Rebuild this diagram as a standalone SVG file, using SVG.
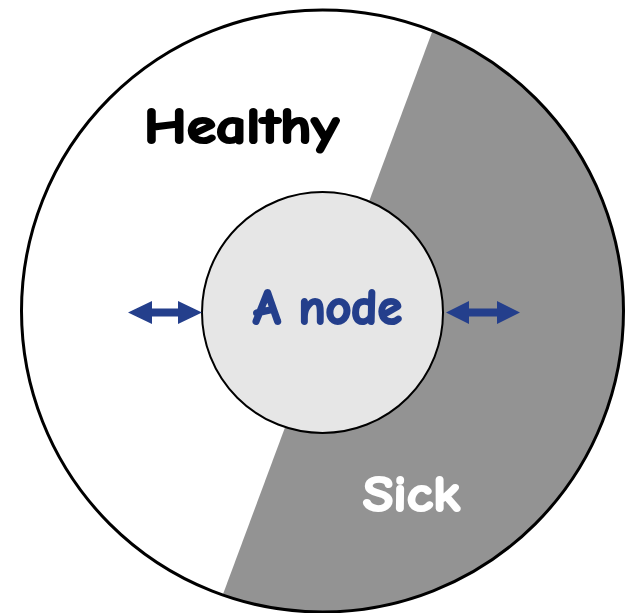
<svg xmlns="http://www.w3.org/2000/svg" width="627" height="613" viewBox="0 0 627 613">
<style>
.lbl{font-family:"Comic Sans MS","Comic Neue","DejaVu Sans",sans-serif;font-weight:bold;font-size:50px;text-anchor:middle;stroke-width:2.2;stroke-linejoin:round}
.arr{fill:#243f8c}
</style>
<defs>
<clipPath id="outerClip"><circle cx="322.5" cy="311" r="301"/></clipPath>
</defs>
<rect x="0" y="0" width="627" height="613" fill="#ffffff"/>
<g id="outer">
<circle cx="322.5" cy="311" r="301" fill="#ffffff"/>
<polygon points="444,0 627,0 627,613 216,613" fill="#939393" clip-path="url(#outerClip)"/>
<circle cx="322.5" cy="311" r="301" fill="none" stroke="#000" stroke-width="3"/>
</g>
<g id="healthy"><text class="lbl" x="241.5" y="143" fill="#000" stroke="#000" textLength="195" lengthAdjust="spacingAndGlyphs">Healthy</text></g>
<g id="sick"><text class="lbl" x="411.5" y="511" fill="#ffffff" stroke="#ffffff" textLength="97" lengthAdjust="spacingAndGlyphs">Sick</text></g>
<g id="node">
<circle cx="322.5" cy="312.5" r="120.5" fill="#e6e6e6" stroke="#000" stroke-width="2"/>
<text class="lbl" x="327.5" y="324" fill="#243f8c" stroke="#243f8c" textLength="149" lengthAdjust="spacingAndGlyphs">A node</text>
</g>
<g id="connectors">
<polygon class="arr" points="128,312.5 152,301 152,308.5 178,308.5 178,301 202,312.5 178,324 178,316.5 152,316.5 152,324"/>
<polygon class="arr" points="446,312.5 469,301 469,308.5 497,308.5 497,301 520,312.5 497,324 497,316.5 469,316.5 469,324"/>
</g>
</svg>
